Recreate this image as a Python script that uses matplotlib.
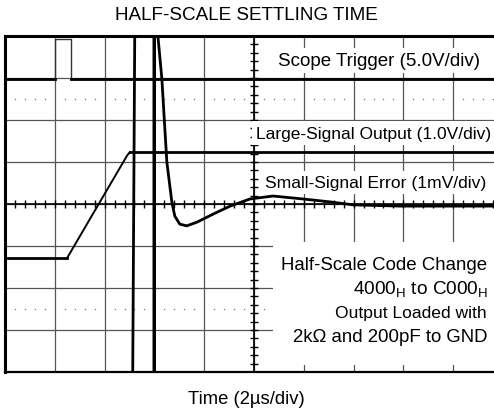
import numpy as np
import matplotlib
matplotlib.use("Agg")
import matplotlib.pyplot as plt
from matplotlib.patches import Rectangle

plt.rcParams['font.family'] = ['Liberation Sans', 'DejaVu Sans']
plt.rcParams['mathtext.fontset'] = 'custom'
plt.rcParams['mathtext.rm'] = 'Liberation Sans'

# scope screen in divisions: x 0..10, y 0..8
trig_x = [0.0, 1.0, 1.0, 1.32, 1.32, 10.0]
trig_y = [6.97, 6.97, 7.93, 7.93, 6.97, 6.97]

large_x = [0.0, 1.245, 2.45, 2.51, 10.0]
large_y = [2.71, 2.71, 5.15, 5.24, 5.24]

err_x = [2.56, 2.61, 2.99, 2.99, 3.00, 3.00, 3.07, 3.15, 3.21, 3.25, 3.35, 3.41,
         3.51, 3.65, 3.86, 4.18, 4.52, 4.92, 5.38, 5.98, 6.53, 6.99, 7.93, 10.0]
err_y = [-1.0, 9.0, 9.0, -1.0, -1.0, 9.0, 8.0, 6.98, 5.79, 5.0, 4.05, 3.71,
         3.52, 3.48, 3.57, 3.76, 3.95, 4.12, 4.19, 4.12, 4.05, 3.98, 3.95, 3.95]

fig = plt.figure(figsize=(4.94, 4.10), dpi=100)
ax = fig.add_axes([5 / 494, 37 / 410, 498 / 494, 336 / 410])
ax.set_xlim(0, 10)
ax.set_ylim(0, 8)
ax.set_xticks([])
ax.set_yticks([])
for s in ax.spines.values():
    s.set_linewidth(2.2)
    s.set_color('black')
ax.spines['bottom'].set_linewidth(1.6)

# grid
gc = '#555555'
for gx in range(1, 10):
    ax.axvline(gx, color=gc, lw=0.9, zorder=1)
for gy in range(1, 8):
    ax.axhline(gy, color=gc, lw=0.9, zorder=1)

# dotted rows
fine = np.arange(0.2, 10, 0.2)
fine = fine[np.abs(fine - np.round(fine)) > 0.05]
for dy in [1.5, 6.5]:
    ax.plot(fine, [dy] * len(fine), ls='none', marker='s', ms=0.9, mew=0, color='#777777', zorder=1)

# center axes with fine ticks
ax.axvline(5, color='black', lw=1.2, zorder=1)
ax.axhline(4, color='black', lw=1.2, zorder=1)
ty = np.arange(0.2, 8, 0.2)
ax.plot([5] * len(ty), ty, ls='none', marker='_', ms=6, mew=1, color='black', zorder=1)
tx = np.arange(0.2, 10, 0.2)
ax.plot(tx, [4] * len(tx), ls='none', marker='|', ms=6, mew=1, color='black', zorder=1)

# labels with white boxes over the grid
box = dict(facecolor='white', edgecolor='none', pad=3)
ax.text(9.54, 7.31, "Scope Trigger (5.0V/div)", ha='right', va='baseline', fontsize=13.5, bbox=box, zorder=3)
ax.text(9.76, 5.58, "Large-Signal Output (1.0V/div)", ha='right', va='baseline', fontsize=12.5, bbox=box, zorder=3)
ax.text(9.66, 4.40, "Small-Signal Error (1mV/div)", ha='right', va='baseline', fontsize=12.6, bbox=box, zorder=3)

ax.add_patch(Rectangle((5.38, 0.17), 5.0, 2.93, facecolor='white', edgecolor='none', zorder=2))
ax.text(9.68, 2.45, "Half-Scale Code Change", ha='right', va='baseline', fontsize=13.45, zorder=3)
ax.text(9.70, 1.86, r"4000$_{\mathrm{H}}$ to C000$_{\mathrm{H}}$", ha='right', va='baseline', fontsize=13.7, zorder=3)
ax.text(9.68, 1.30, "Output Loaded with", ha='right', va='baseline', fontsize=12.6, zorder=3)
ax.text(9.68, 0.745, "2k\u03a9 and 200pF to GND", ha='right', va='baseline', fontsize=13.4, zorder=3)

# traces
ax.plot(trig_x, trig_y, color='#333333', lw=1.0, zorder=4)
ax.plot(trig_x[:2], trig_y[:2], color='black', lw=2.0, zorder=4)
ax.plot(trig_x[4:], trig_y[4:], color='black', lw=2.0, zorder=4)
ax.plot(large_x[:2], large_y[:2], color='black', lw=2.0, zorder=4)
ax.plot(large_x[1:4], large_y[1:4], color='black', lw=1.4, zorder=4)
ax.plot(large_x[3:], large_y[3:], color='black', lw=2.0, zorder=4)
ax.plot(err_x, err_y, color='black', lw=2.0, zorder=5)

fig.text(246.5 / 494, 1 - 20 / 410, "HALF-SCALE SETTLING TIME", ha='center', va='baseline', fontsize=13.6)
fig.text(246 / 494, 1 - 404 / 410, "Time (2\u00b5s/div)", ha='center', va='baseline', fontsize=13.3)

fig.savefig("out.png", dpi=100)
